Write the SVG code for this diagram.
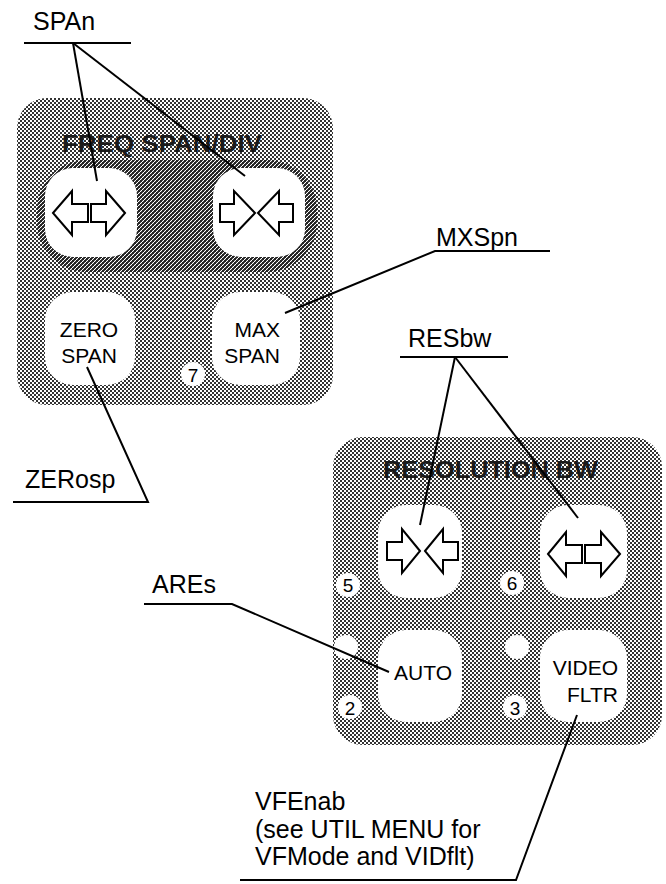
<svg xmlns="http://www.w3.org/2000/svg" width="666" height="884" viewBox="0 0 666 884">
<style>
.lbl{font-family:"Liberation Sans",Arial,Helvetica,sans-serif;font-size:25px;fill:#000}
.btn{font-family:"Liberation Sans",Arial,Helvetica,sans-serif;font-size:21px;fill:#000}
.num{font-family:"Liberation Sans",Arial,Helvetica,sans-serif;font-size:19px;fill:#000;text-anchor:middle}
.ttl{font-family:"Liberation Sans",Arial,Helvetica,sans-serif;font-size:24px;font-weight:bold;fill:#1a1a1a}
.ln{stroke:#000;stroke-width:2;fill:none}
.key{fill:#fff}
.arr{fill:#fff;stroke:#000;stroke-width:2;stroke-linejoin:miter}
.panel{fill:url(#ht)}
</style>
<defs>
<pattern id="ht" width="4" height="4" patternUnits="userSpaceOnUse">
<rect width="4" height="4" fill="#fff"/>
<rect width="2" height="2" fill="#333"/>
<rect x="2" y="2" width="2" height="2" fill="#333"/>
</pattern>
<pattern id="dk" width="4" height="4" patternUnits="userSpaceOnUse">
<rect width="4" height="4" fill="#1e1e1e"/>
<path d="M-1,1 l2,-2 M0,4 l4,-4 M3,5 l2,-2" stroke="#fff" stroke-width="1"/>
</pattern>
</defs>

<g id="freq-panel">
<rect class="panel" x="17" y="98" width="316" height="307" rx="30"/>
<rect x="37" y="160" width="280" height="112" rx="50" fill="url(#dk)" opacity="0.8"/>
<text class="ttl" x="62" y="152" textLength="200" lengthAdjust="spacingAndGlyphs">FREQ SPAN/DIV</text>
</g>

<g id="key-span-up">
<rect class="key" x="45" y="168" width="92" height="89" rx="28"/>
<path class="arr" d="M53,213 L72,191 L72,204 L88,204 L88,222 L72,222 L72,235 Z"/>
<path class="arr" d="M125,213 L106,191 L106,204 L91,204 L91,222 L106,222 L106,235 Z"/>
</g>
<g id="key-span-down">
<rect class="key" x="213" y="168" width="92" height="89" rx="28"/>
<path class="arr" d="M255,213 L234,191 L234,204 L220,204 L220,222 L234,222 L234,235 Z"/>
<path class="arr" d="M258,213 L279,191 L279,204 L293,204 L293,222 L279,222 L279,235 Z"/>
</g>
<g id="key-zero-span">
<rect class="key" x="45" y="292" width="90" height="93" rx="28"/>
<text class="btn" x="89" y="337" text-anchor="middle">ZERO</text>
<text class="btn" x="89" y="363" text-anchor="middle">SPAN</text>
</g>
<g id="key-max-span">
<rect class="key" x="212" y="292" width="88" height="93" rx="28"/>
<text class="btn" x="280" y="337" text-anchor="end">MAX</text>
<text class="btn" x="280" y="363" text-anchor="end">SPAN</text>
</g>
<g id="num-7">
<circle cx="193" cy="374" r="12" fill="#fff"/>
<text class="num" x="193" y="382">7</text>
</g>

<g id="res-panel">
<rect class="panel" x="333" y="437" width="329" height="308" rx="30"/>
<text class="ttl" x="383" y="478" textLength="215" lengthAdjust="spacingAndGlyphs">RESOLUTION BW</text>
</g>
<g id="key-res-down">
<rect class="key" x="378" y="505" width="84" height="93" rx="28"/>
<path class="arr" d="M420,551 L402,529 L402,542 L387,542 L387,560 L402,560 L402,573 Z"/>
<path class="arr" d="M425,551 L443,529 L443,542 L458,542 L458,560 L443,560 L443,573 Z"/>
</g>
<g id="key-res-up">
<rect class="key" x="540" y="505" width="87" height="93" rx="28"/>
<path class="arr" d="M548,554 L566,532 L566,545 L582,545 L582,563 L566,563 L566,576 Z"/>
<path class="arr" d="M620,554 L601,532 L601,545 L585,545 L585,563 L601,563 L601,576 Z"/>
</g>
<g id="key-auto">
<rect class="key" x="378" y="630" width="84" height="92" rx="28"/>
<text class="btn" x="423" y="680" text-anchor="middle">AUTO</text>
</g>
<g id="key-video-fltr">
<rect class="key" x="540" y="630" width="87" height="92" rx="28"/>
<text class="btn" x="618" y="675" text-anchor="end">VIDEO</text>
<text class="btn" x="618" y="702" text-anchor="end">FLTR</text>
</g>
<g id="res-numbers">
<circle cx="348" cy="585" r="12" fill="#fff"/>
<text class="num" x="348" y="592">5</text>
<circle cx="512" cy="583" r="12" fill="#fff"/>
<text class="num" x="512" y="590">6</text>
<circle cx="346" cy="647" r="12" fill="#fff"/>
<circle cx="517" cy="647" r="12" fill="#fff"/>
<circle cx="350" cy="707" r="12" fill="#fff"/>
<text class="num" x="350" y="715">2</text>
<circle cx="515" cy="707" r="12" fill="#fff"/>
<text class="num" x="515" y="715">3</text>
</g>

<g id="label-span"><text class="lbl" x="33" y="30">SPAn</text></g>
<g id="label-mxspn"><text class="lbl" x="436" y="246">MXSpn</text></g>
<g id="label-zerosp"><text class="lbl" x="25" y="488">ZERosp</text></g>
<g id="label-resbw"><text class="lbl" x="408" y="347">RESbw</text></g>
<g id="label-ares"><text class="lbl" x="152" y="593">AREs</text></g>
<g id="label-vfenab">
<text class="lbl" x="255" y="810">VFEnab</text>
<text class="lbl" x="255" y="838">(see UTIL MENU for</text>
<text class="lbl" x="255" y="865">VFMode and VIDflt)</text>
</g>

<g id="connectors">
<polyline class="ln" points="24,43 131,43"/>
<line class="ln" x1="73" y1="43" x2="97" y2="181"/>
<line class="ln" x1="73" y1="43" x2="245" y2="176"/>
<polyline class="ln" points="550,251 435,251 285,313"/>
<polyline class="ln" points="13,502 148,502 87,367"/>
<polyline class="ln" points="400,357 508,357"/>
<line class="ln" x1="455" y1="357" x2="420" y2="525"/>
<line class="ln" x1="455" y1="357" x2="578" y2="518"/>
<polyline class="ln" points="144,604 232,604 389,672"/>
<polyline class="ln" points="240,880 516,880 577,715"/>
</g>
</svg>
